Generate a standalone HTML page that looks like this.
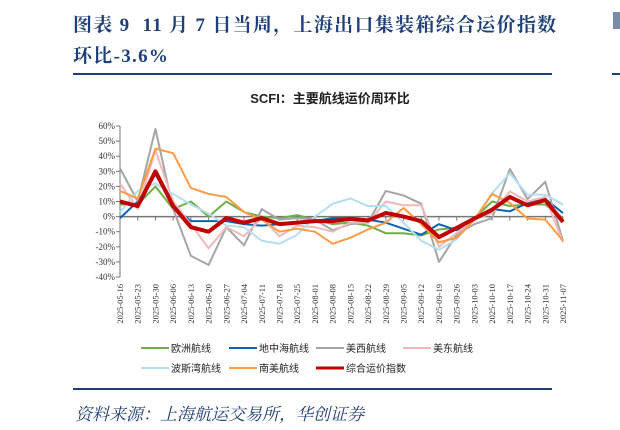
<!DOCTYPE html>
<html><head><meta charset="utf-8">
<style>
body{margin:0;width:620px;height:430px;background:#fff;overflow:hidden;position:relative;font-family:"Liberation Serif","Noto Serif CJK SC",serif}
.t{position:absolute;left:73px;color:#1f3f78;font-weight:bold;font-size:19px;font-family:"Liberation Serif","Noto Serif CJK SC",serif;white-space:nowrap;letter-spacing:1.3px}
.rule{position:absolute;left:73px;width:479px;height:2px;background:#1f3f78}
</style></head><body>
<div class="t" style="top:10px">图表 9&nbsp;&nbsp;11 月 7 日当周，上海出口集装箱综合运价指数</div>
<div class="t" style="top:41px">环比-3.6%</div>
<div class="rule" style="top:73px"></div>
<div class="rule" style="top:388px"></div>
<div style="position:absolute;left:613px;top:12px;width:7px;height:17px;background:#1f3f78;opacity:.6"></div>
<div style="position:absolute;left:612px;top:73px;width:8px;height:2px;background:#1f3f78"></div>
<div style="position:absolute;left:75px;top:400px;font-size:17px;font-style:italic;color:#1f3f78;font-family:'Liberation Serif','Noto Serif CJK SC',serif">资料来源：上海航运交易所，华创证券</div>
<svg id="chart" width="620" height="430" style="position:absolute;left:0;top:0">
<text x="330" y="103" text-anchor="middle" font-size="13" font-weight="bold" fill="#222" font-family="Liberation Sans,Noto Sans CJK SC,sans-serif">SCFI：主要航线运价周环比</text>
</svg>
<script>
const categories=["2025-05-16","2025-05-23","2025-05-30","2025-06-06","2025-06-13","2025-06-20","2025-06-27","2025-07-04","2025-07-11","2025-07-18","2025-07-25","2025-08-01","2025-08-08","2025-08-15","2025-08-22","2025-08-29","2025-09-05","2025-09-12","2025-09-19","2025-09-26","2025-10-03","2025-10-10","2025-10-17","2025-10-24","2025-10-31","2025-11-07"];
const yTicks=[60,50,40,30,20,10,0,-10,-20,-30,-40];
const europe=[8,8,20,5,10,0,10,3,0,-1,1,-2,-5,-4,-6,-11,-11,-12.5,-8.5,-7.5,-1,10,7,8,8,-1];
const med=[-1,10,28,7,-3,-3,-3,-5,-6,-5,-4,-3,-1,-1,-2,-4,-8,-12,-5,-9,-2,5,3.5,9,11.6,2.4];
const usWest=[32,10,58,5,-26,-32,-7,-19,5,-2,-1,-2,-9,-5,-4,17,14,8.5,-30,-12,-5,-1,31.5,11.6,23,-16];
const usEast=[22,5,44,10,-5,-21,-7,-13,-1,-13,-6,-7,-10,-4,-4,10,7.5,7.5,-20,-11,-2,2.4,16.7,10,13,-17];
const gulf=[3,17,22,15,8,2,-6,-7,-16,-18,-12,0,8.5,12,7,7,-4,-16,-22,-15,-2,15.5,28.7,14.5,14.5,8];
const southAm=[17,12,45,42,19,15,13,3,-2,-10,-8,-10,-18,-14,-8.5,-4,5.7,-5,-17,-14,-2,15,9,-1.3,-2,-16];
const composite=[10,7,30,7,-7,-10,-1,-4,-1,-5,-4,-3,-3,-1.5,-2.6,2.4,0,-3,-13.6,-7.5,-1.3,4.6,13,7.5,11,-3.6];
const seriesNames=["欧洲航线","地中海航线","美西航线","美东航线","波斯湾航线","南美航线","综合运价指数"];
const seriesData=[europe,med,usWest,usEast,gulf,southAm,composite];
const colors=["#70ad47","#0e63b5","#a5a5a5","#f0b9b9","#b4dff0","#ff9a45","#c00000"];
const widths=[2,2,2,2,2,2,4];
const svg=document.getElementById('chart');const NS="http://www.w3.org/2000/svg";
const x0=120,x1=563,yTop=126,yBot=277;
const xs=i=>x0+i*(x1-x0)/(categories.length-1);
const ys=v=>yTop+(60-v)*(yBot-yTop)/100;
function mk(t,a){const e=document.createElementNS(NS,t);for(const k in a)e.setAttribute(k,a[k]);svg.appendChild(e);return e;}
const ax=mk('line',{x1:x0,y1:yTop,x2:x0,y2:yBot,stroke:'#777','stroke-width':1});


yTicks.forEach(v=>{
 const tk=mk('line',{x1:x0-4,y1:ys(v),x2:x0,y2:ys(v),stroke:'#777'});
 
 
 const t=mk('text',{x:x0-5,y:ys(v)+3,'text-anchor':'end','font-size':9,fill:'#333','font-family':'Liberation Serif,serif'});
 t.textContent=v+'%';
 
 
});
const xa=mk('line',{x1:x0,y1:ys(0),x2:x1,y2:ys(0),stroke:'#777','stroke-width':1.5});


categories.forEach((c,i)=>{
 const tk=mk('line',{x1:xs(i),y1:ys(0),x2:xs(i),y2:ys(0)+4,stroke:'#777'});
 
 
 const t=mk('text',{x:0,y:0,'text-anchor':'end','font-size':8.5,fill:'#333','font-family':'Liberation Serif,serif',transform:`translate(${xs(i)+3},284) rotate(-90)`});
 t.textContent=c;
 
 
});
seriesData.forEach((d,s)=>{
 const p=mk('polyline',{points:d.map((v,i)=>xs(i)+','+ys(v)).join(' '),fill:'none',stroke:colors[s],'stroke-width':widths[s],'stroke-linejoin':'round'});
 
 
});
const lx=[141,229,316,403];
seriesNames.forEach((n,s)=>{
 const x=lx[s%4],y=s<4?348:368;
 const l=mk('line',{x1:x,y1:y,x2:x+28,y2:y,stroke:colors[s],'stroke-width':s==6?3:2});
 
 
 const t=mk('text',{x:x+30,y:y+4,'font-size':10,fill:'#222','font-family':'Liberation Sans,Noto Sans CJK SC,sans-serif'});
 t.textContent=n;
 
 
});
</script>
</body></html>
